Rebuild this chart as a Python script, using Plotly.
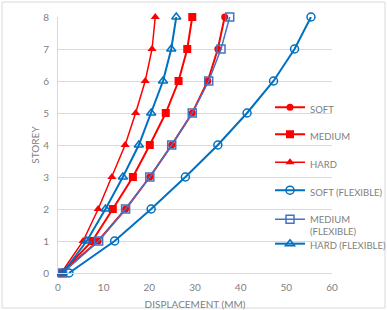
import plotly.graph_objects as go

storey = [0, 1, 2, 3, 4, 5, 6, 7, 8]
soft = [0.7, 8.8, 14.8, 20.1, 24.9, 29.4, 32.8, 35.0, 36.5]
medium = [0.7, 7.5, 12.0, 16.4, 20.1, 23.6, 26.4, 28.3, 29.4]
hard = [0.7, 5.5, 8.8, 11.8, 14.7, 17.0, 19.1, 20.6, 21.3]
soft_flex = [2.4, 12.4, 20.4, 27.9, 35.0, 41.4, 47.2, 51.8, 55.4]
medium_flex = [1.0, 8.9, 14.8, 20.1, 24.9, 29.4, 33.0, 35.7, 37.6]
hard_flex = [1.0, 6.3, 10.4, 14.2, 17.7, 20.4, 23.0, 24.8, 25.9]

x_ticks = [0, 10, 20, 30, 40, 50, 60]
y_ticks = [0, 1, 2, 3, 4, 5, 6, 7, 8]

RED = "#FF0000"
BLUE = "#0070C0"
BLUE2 = "#4472C4"
FONT = "Lato"
TXT = "#808080"

W, H = 387, 310
L, R, T, B = 58, 332, 17, 273

def py(p):
    return (B - p) / (B - T)

def px(p):
    return (p - L) / (R - L)

series = [
    ("SOFT", soft, RED, dict(symbol="circle", size=7, color=RED), 2),
    ("MEDIUM", medium, RED, dict(symbol="square", size=8, color=RED), 2),
    ("HARD", hard, RED, dict(symbol="triangle-up", size=8, color=RED), 1.5),
    ("SOFT (FLEXIBLE)", soft_flex, BLUE, dict(symbol="circle-open", size=8, color=BLUE, line=dict(width=1.5, color=BLUE)), 2),
    ("MEDIUM<br>(FLEXIBLE)", medium_flex, BLUE2, dict(symbol="square-open", size=8, color=BLUE2, line=dict(width=1.5, color=BLUE2)), 1.5),
    ("HARD (FLEXIBLE)", hard_flex, BLUE, dict(symbol="triangle-up-open", size=8, color=BLUE, line=dict(width=1.5, color=BLUE)), 2),
]
legend_y = [109, 136, 164, 192, 225.5, 245.5]

fig = go.Figure()
layout_legends = {}
for i, (name, xs, col, mk, lw) in enumerate(series):
    lname = "legend" if i == 0 else f"legend{i+1}"
    fig.add_trace(go.Scatter(
        x=xs, y=storey, name=name, mode="lines+markers",
        line=dict(color=col, width=lw), marker=mk, legend=lname,
        cliponaxis=False,
    ))
    layout_legends[lname] = dict(
        x=px(270), xanchor="left", y=py(legend_y[i]), yanchor="middle",
        bgcolor="rgba(0,0,0,0)", font=dict(family=FONT, size=9.5, color=TXT),
        itemwidth=30, valign="top",
    )

fig.update_layout(
    width=W, height=H,
    margin=dict(l=L, r=W - R, t=T, b=H - B, autoexpand=False),
    paper_bgcolor="white", plot_bgcolor="white",
    font=dict(family=FONT, size=10, color=TXT),
    showlegend=True,
    **layout_legends,
)
fig.update_xaxes(
    range=[0, 60], tickvals=x_ticks, showgrid=False, zeroline=False,
    showline=True, linecolor="#D9D9D9", linewidth=1, ticks="",
    ticklabelstandoff=5, automargin=False,
    tickfont=dict(family=FONT, size=10, color=TXT),
    title=dict(text="DISPLACEMENT (MM)", font=dict(family=FONT, size=10, color=TXT), standoff=12),
)
fig.update_yaxes(
    range=[0, 8], tickvals=y_ticks, showgrid=True, gridcolor="#D9D9D9", gridwidth=1,
    zeroline=False, showline=True, linecolor="#D9D9D9", linewidth=1, ticks="",
    ticklabelstandoff=6, automargin=False,
    tickfont=dict(family=FONT, size=10, color=TXT),
    title=dict(text="STOREY", font=dict(family=FONT, size=10, color=TXT), standoff=1),
)
fig.add_shape(type="rect", xref="paper", yref="paper",
              x0=px(2), x1=px(385), y0=py(308), y1=py(2),
              line=dict(color="#D9D9D9", width=1), layer="below")

fig.write_html("out.html")
